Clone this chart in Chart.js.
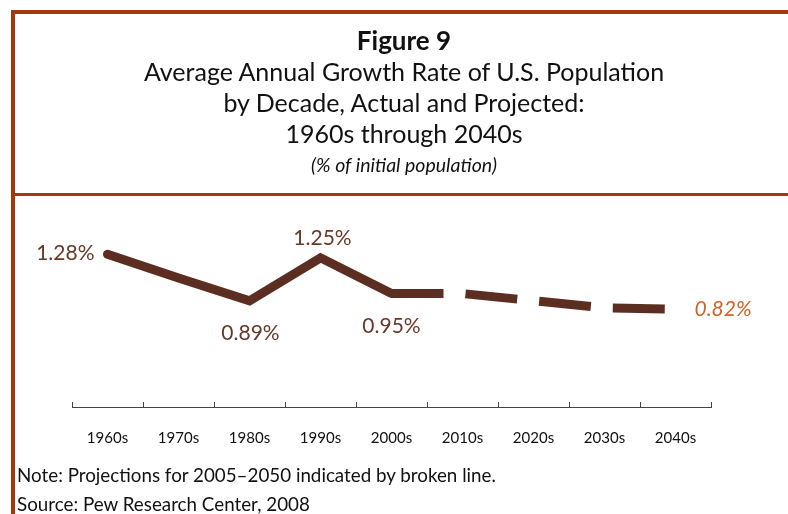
<!DOCTYPE html>
<html>
<head>
<meta charset="utf-8">
<script src="https://cdn.jsdelivr.net/npm/chart.js@4.4.1/dist/chart.umd.min.js"></script>
<style>
  html, body { margin:0; padding:0; background:#fff; }
  #page { position:relative; width:788px; height:514px; overflow:hidden; font-family:Lato, sans-serif; }
  .frame-top  { position:absolute; left:11px; top:10px; width:777px; height:4px; background:#a33a0e; }
  .frame-left { position:absolute; left:11px; top:10px; width:4px; height:504px; background:#a33a0e; }
  .frame-mid  { position:absolute; left:11px; top:193px; width:777px; height:3px; background:#a33a0e; }
  .t { position:absolute; left:15px; width:778px; text-align:center; color:#111; white-space:nowrap; }
  .note { position:absolute; left:17px; font-size:18.8px; color:#111; white-space:nowrap; }
  #wrap { position:absolute; left:0; top:0; width:788px; height:514px; }
</style>
</head>
<body>
<div id="page">
  <div id="wrap"><canvas id="c-growth"></canvas></div>
  <div class="frame-top"></div>
  <div class="frame-left"></div>
  <div class="frame-mid"></div>
  <div class="t" style="top:24px;font-size:26px;font-weight:700">Figure 9</div>
  <div class="t" style="top:56px;font-size:25px">Average Annual Growth Rate of U.S. Population</div>
  <div class="t" style="top:87px;font-size:25px">by Decade, Actual and Projected:</div>
  <div class="t" style="top:118px;font-size:25px">1960s through 2040s</div>
  <div class="t" style="top:153px;font-size:19.5px;font-style:italic">(% of initial population)</div>
  <div class="note" style="top:463px">Note: Projections for 2005–2050 indicated by broken line.</div>
  <div class="note" style="top:492px">Source: Pew Research Center, 2008</div>
</div>

<script>
// decades on the x axis
const DECADES = ['1960s','1970s','1980s','1990s','2000s','2010s','2020s','2030s','2040s'];
// average annual growth, % of initial population (2010s on = projected)
const GROWTH  = [1.28, 1.08, 0.89, 1.25, 0.95, 0.95, 0.89, 0.83, 0.82];
// which points carry a value label
const LABELLED = [0, 2, 3, 4, 8];
// first index of the projected (broken) part
const PROJ_FROM = 4;

const BROWN = '#5c2e22';

// value labels, placed relative to each point
const labelPlugin = {
  id: 'valueLabels',
  afterDatasetsDraw(chart, args, opts) {
    const { ctx } = chart;
    const pts = chart.getDatasetMeta(0).data;
    ctx.save();
    LABELLED.forEach(i => {
      const p = pts[i];
      const pl = opts.place[i];
      ctx.font = (pl.italic ? 'italic ' : '') + '21px Lato, sans-serif';
      ctx.fillStyle = pl.color || '#6a3829';
      ctx.textAlign = pl.align;
      ctx.textBaseline = 'middle';
      ctx.fillText(GROWTH[i].toFixed(2) + '%', p.x + pl.dx, p.y + pl.dy);
    });
    ctx.restore();
  }
};

// small upward tick marks at the category boundaries
const tickPlugin = {
  id: 'upTicks',
  afterDraw(chart) {
    const { ctx } = chart;
    const x = chart.scales.x;
    const half = (x.getPixelForValue(1) - x.getPixelForValue(0)) / 2;
    const y = chart.chartArea.bottom;
    ctx.save();
    ctx.strokeStyle = '#444';
    ctx.lineWidth = 1;
    ctx.beginPath();
    for (let i = 0; i <= DECADES.length; i++) {
      const px = Math.round(x.getPixelForValue(i) - half) + 0.5;
      ctx.moveTo(px, y);
      ctx.lineTo(px, y - 5);
    }
    ctx.stroke();
    ctx.restore();
  }
};

new Chart(document.getElementById('c-growth'), {
  type: 'line',
  data: {
    labels: DECADES,
    datasets: [{
      data: GROWTH,
      borderColor: BROWN,
      borderWidth: 9,
      pointRadius: 0,
      tension: 0,
      fill: false,
      borderCapStyle: 'round',
      segment: {
        borderDash: c => c.p0DataIndex >= PROJ_FROM ? [52, 22] : undefined,
        borderCapStyle: c => c.p0DataIndex >= PROJ_FROM ? 'butt' : 'round'
      }
    }]
  },
  options: {
    responsive: true, maintainAspectRatio: false, animation: false,
    layout: { padding: { left:72, right:77, top:216, bottom:45 } },
    plugins: {
      legend: { display:false },
      tooltip: { enabled:false },
      valueLabels: {
        place: {
          0: { dx:-13, dy:-1,  align:'right' },
          2: { dx:1,   dy:32,  align:'center' },
          3: { dx:2,   dy:-20, align:'center' },
          4: { dx:0,   dy:33,  align:'center' },
          8: { dx:19,  dy:0,   align:'left', italic:true, color:'#cc6526' }
        }
      }
    },
    scales: {
      x: {
        offset: true,
        grid: { display:false, drawTicks:false },
        border: { display:true, color:'#444', width:1 },
        ticks: { color:'#111', padding:22, font:{ family:'Lato', size:15 } }
      },
      y: { display:false, min:0, max:1.6 }
    }
  },
  plugins: [labelPlugin, tickPlugin]
});
</script>
</body>
</html>
